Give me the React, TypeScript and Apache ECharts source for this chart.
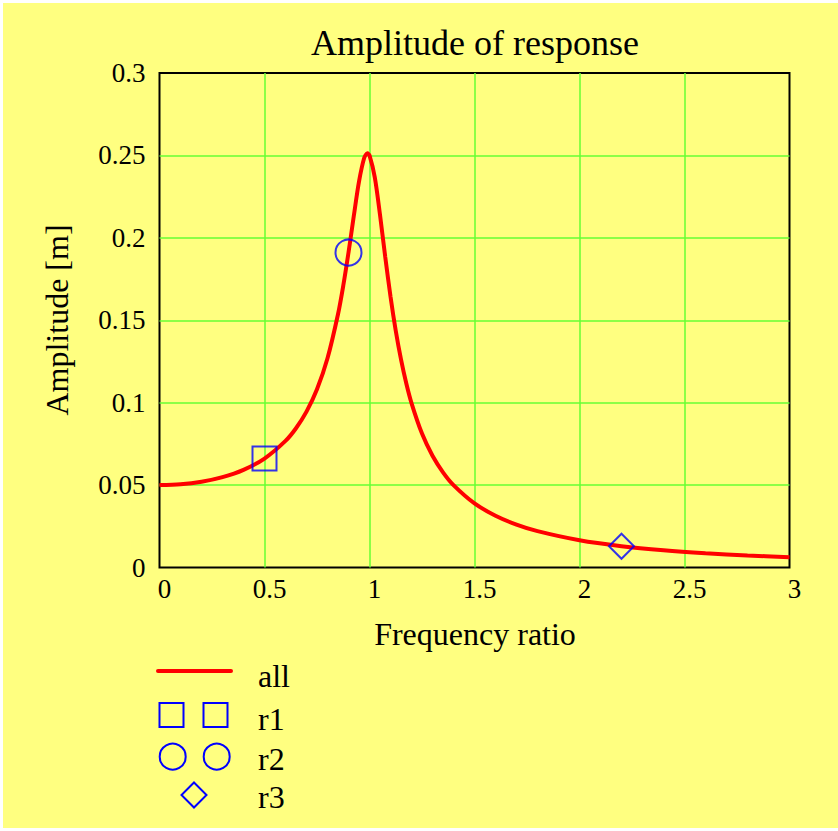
import React, { useEffect, useRef } from "react";
import * as echarts from "echarts";

// Frequency ratio samples along the response curve
const ratio = [
  0, 0.1, 0.2, 0.3, 0.4, 0.5, 0.6, 0.65, 0.7, 0.75, 0.8, 0.85, 0.875, 0.9,
  0.925, 0.95, 0.975, 0.99, 1.0, 1.025, 1.05, 1.075, 1.1, 1.125, 1.15, 1.175,
  1.2, 1.25, 1.3, 1.35, 1.4, 1.5, 1.6, 1.7, 1.8, 2.0, 2.2, 2.4, 2.6, 2.8, 3.0,
];

// Amplitude [m] at each ratio
const amplitude = [
  0.05, 0.0505, 0.05204, 0.05483, 0.05926, 0.06609, 0.07679, 0.08447, 0.09454,
  0.10811, 0.12692, 0.15364, 0.17094, 0.19107, 0.21307, 0.23413, 0.24857,
  0.25126, 0.25, 0.23679, 0.21397, 0.18839, 0.1644, 0.14363, 0.12622, 0.11178,
  0.09976, 0.08123, 0.06781, 0.05776, 0.05, 0.0389, 0.0314, 0.02604, 0.02204,
  0.01652, 0.01294, 0.01045, 0.00865, 0.00729, 0.00623,
];

// Highlighted operating points
const r1Points = [[0.5, 0.0661]];
const r2Points = [[0.9, 0.1911]];
const r3Points = [[2.2, 0.0129]];

const xRange = { min: 0, max: 3, step: 0.5 };
const yRange = { min: 0, max: 0.3, step: 0.05 };

const FONT = "'Liberation Serif', 'Times New Roman', serif";
const YELLOW = "#FFFF80";
const GRID_GREEN = "#66FF33";
const RED = "#FF0000";
const BLUE = "#0000FF";

export default function App() {
  const ref = useRef<HTMLDivElement>(null);

  useEffect(() => {
    if (!ref.current) return;
    const chart = echarts.init(ref.current, null, { renderer: "svg" });

    const axisLabel = {
      color: "#000",
      fontSize: 27,
      fontFamily: FONT,
    };

    const legendText = (text: string, y: number) => ({
      type: "text",
      x: 255,
      y,
      style: {
        text,
        fill: "#000",
        font: `32px ${FONT}`,
        align: "left",
        verticalAlign: "middle",
      },
    });

    const square = (cx: number, cy: number) => ({
      type: "rect",
      shape: { x: cx - 12, y: cy - 12, width: 24, height: 24 },
      style: { fill: "none", stroke: BLUE, lineWidth: 2 },
    });

    const ring = (cx: number, cy: number) => ({
      type: "circle",
      shape: { cx, cy, r: 13 },
      style: { fill: "none", stroke: BLUE, lineWidth: 2 },
    });

    chart.setOption({
      animation: false,
      backgroundColor: YELLOW,
      textStyle: { fontFamily: FONT },
      grid: {
        left: 156.5,
        top: 70,
        width: 630,
        height: 494.5,
        show: true,
        borderColor: "#000",
        borderWidth: 2,
        backgroundColor: "transparent",
      },
      xAxis: {
        type: "value",
        min: xRange.min,
        max: xRange.max,
        interval: xRange.step,
        axisLine: { show: false },
        axisTick: { show: false },
        splitLine: {
          show: true,
          showMinLine: false,
          showMaxLine: false,
          lineStyle: { color: GRID_GREEN, width: 1.5 },
        },
        axisLabel: { ...axisLabel, margin: 8, padding: [0, 0, 0, 10] },
      },
      yAxis: {
        type: "value",
        min: yRange.min,
        max: yRange.max,
        interval: yRange.step,
        axisLine: { show: false },
        axisTick: { show: false },
        splitLine: {
          show: true,
          showMinLine: false,
          showMaxLine: false,
          lineStyle: { color: GRID_GREEN, width: 1.5 },
        },
        axisLabel: { ...axisLabel, margin: 14, padding: [6, 0, 0, 0] },
      },
      series: [
        {
          name: "all",
          type: "line",
          data: ratio.map((r, i) => [r, amplitude[i]]),
          smooth: 0.3,
          symbol: "none",
          lineStyle: { color: RED, width: 4 },
          z: 2,
        },
        {
          name: "r1",
          type: "scatter",
          data: r1Points,
          symbol: "rect",
          symbolSize: 24,
          itemStyle: { color: "transparent", borderColor: BLUE, borderWidth: 2 },
          z: 3,
        },
        {
          name: "r2",
          type: "scatter",
          data: r2Points,
          symbol: "circle",
          symbolSize: 26,
          itemStyle: { color: "transparent", borderColor: BLUE, borderWidth: 2 },
          z: 3,
        },
        {
          name: "r3",
          type: "scatter",
          data: r3Points,
          symbol: "diamond",
          symbolSize: 25,
          itemStyle: { color: "transparent", borderColor: BLUE, borderWidth: 2 },
          z: 3,
        },
      ],
      graphic: [
        {
          type: "text",
          x: 472,
          y: 40,
          style: {
            text: "Amplitude of response",
            fill: "#000",
            font: `36px ${FONT}`,
            align: "center",
            verticalAlign: "middle",
          },
        },
        {
          type: "text",
          x: 472,
          y: 631,
          style: {
            text: "Frequency ratio",
            fill: "#000",
            font: `32px ${FONT}`,
            align: "center",
            verticalAlign: "middle",
          },
        },
        {
          type: "text",
          x: 54,
          y: 317,
          rotation: Math.PI / 2,
          style: {
            text: "Amplitude [m]",
            fill: "#000",
            font: `32px ${FONT}`,
            align: "center",
            verticalAlign: "middle",
          },
        },
        // Legend
        {
          type: "line",
          shape: { x1: 155, y1: 668, x2: 228, y2: 668 },
          style: { stroke: RED, lineWidth: 4, lineCap: "round" },
        },
        legendText("all", 673),
        square(168.5, 712),
        square(212.5, 712),
        legendText("r1", 716),
        ring(169.7, 753.7),
        ring(213.7, 753.7),
        legendText("r2", 756),
        {
          type: "polygon",
          shape: {
            points: [
              [191, 779.5],
              [203.5, 792],
              [191, 804.5],
              [178.5, 792],
            ],
          },
          style: { fill: "none", stroke: BLUE, lineWidth: 2 },
        },
        legendText("r3", 794),
      ],
    });

    return () => chart.dispose();
  }, []);

  return (
    <div
      style={{
        position: "absolute",
        left: 0,
        top: 0,
        width: 838,
        height: 831,
        background: "#fff",
      }}
    >
      <div
        ref={ref}
        style={{ position: "absolute", left: 3, top: 3, width: 835, height: 825 }}
      />
    </div>
  );
}
